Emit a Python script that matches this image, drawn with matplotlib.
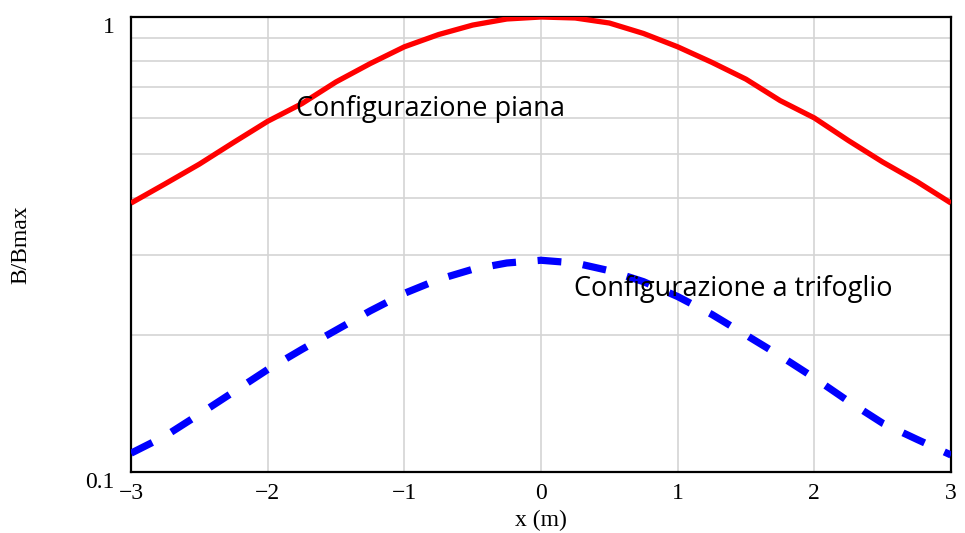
import numpy as np
import matplotlib.pyplot as plt
from matplotlib.ticker import FixedLocator, NullFormatter

# --- data ---
x = [-3.0, -2.75, -2.5, -2.25, -2.0, -1.75, -1.5, -1.25, -1.0, -0.75, -0.5, -0.25, 0.0,
     0.25, 0.5, 0.75, 1.0, 1.25, 1.5, 1.75, 2.0, 2.25, 2.5, 2.75, 3.0]
piana = [0.39, 0.43, 0.475, 0.53, 0.59, 0.645, 0.72, 0.79, 0.86, 0.915, 0.96, 0.99, 1.0,
         0.995, 0.97, 0.92, 0.86, 0.795, 0.73, 0.655, 0.60, 0.535, 0.48, 0.435, 0.39]
trifoglio = [0.110, 0.120, 0.134, 0.150, 0.168, 0.186, 0.205, 0.226, 0.247, 0.265, 0.279, 0.288, 0.292,
             0.288, 0.277, 0.262, 0.243, 0.222, 0.200, 0.180, 0.161, 0.143, 0.128, 0.118, 0.109]

xticks = [-3, -2, -1, 0, 1, 2, 3]
xticklabels = ['\u22123', '\u22122', '\u22121', '0', '1', '2', '3']
ygrid = [0.2, 0.3, 0.4, 0.5, 0.6, 0.7, 0.8, 0.9]

serif = 'Liberation Serif'
sans = ['Open Sans', 'DejaVu Sans']

fig = plt.figure(figsize=(9.65, 5.33), dpi=100)
ax = fig.add_axes([0.1358, 0.1144, 0.8497, 0.8537])

ax.plot(x, piana, color='#ff0000', lw=3.8, solid_capstyle='butt', zorder=3)
ax.plot(x, trifoglio, color='#0000ff', lw=5.2, dashes=(3.3, 3.0),
        dash_capstyle='butt', zorder=3)

ax.set_yscale('log')
ax.set_xlim(-3, 3)
ax.set_ylim(0.1, 1)

ax.set_xticks(xticks)
ax.set_xticklabels(xticklabels, fontfamily=serif, fontsize=17)
ax.set_yticks([0.1, 1])
ax.set_yticklabels(['0.1', '1'], fontfamily=serif, fontsize=17)
for lab in ax.get_yticklabels():
    lab.set_va('top')
ax.yaxis.set_minor_locator(FixedLocator(ygrid))
ax.yaxis.set_minor_formatter(NullFormatter())
ax.tick_params(which='both', length=0)
ax.tick_params(axis='x', pad=8)
ax.tick_params(axis='y', pad=12)

ax.grid(True, which='minor', axis='y', color='#d4d4d4', lw=1.2)
ax.grid(True, which='major', axis='x', color='#d4d4d4', lw=1.2)
ax.set_axisbelow(True)

for s in ax.spines.values():
    s.set_linewidth(1.6)
    s.set_color('black')

ax.set_xlabel('x (m)', fontfamily=serif, fontsize=17, labelpad=4)
ax.set_ylabel('B/Bmax', fontfamily=serif, fontsize=17)
ax.yaxis.set_label_coords(-0.121, 0.5)

ax.text(-1.79, 0.628, 'Configurazione piana', family=sans, fontsize=19.5,
        va='center', ha='left', zorder=4)
ax.text(0.24, 0.252, 'Configurazione a trifoglio', family=sans, fontsize=19.5,
        va='center', ha='left', zorder=4)

fig.savefig('out.png', dpi=100)
